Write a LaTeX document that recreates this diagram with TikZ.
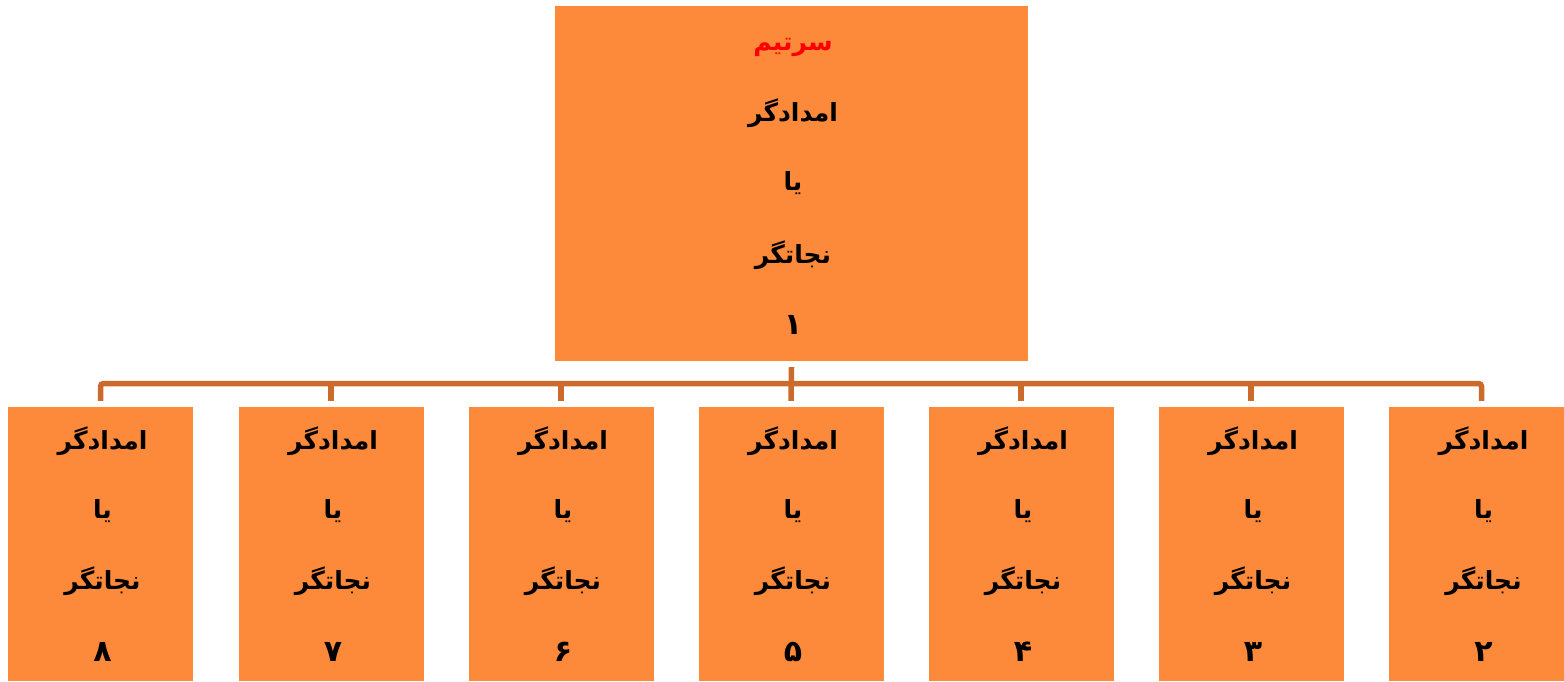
\documentclass[tikz,border=0pt]{standalone}
\usepackage{fontspec}
\TeXXeTstate=1
\newfontfamily\arabicfont[Script=Arabic]{DejaVu Sans}
\definecolor{boxorange}{RGB}{253,137,59}
\definecolor{connbrown}{RGB}{204,106,43}
\definecolor{titlered}{RGB}{255,0,0}
\begin{document}
\begin{tikzpicture}[x=1pt,y=-1pt,
  box/.style={fill=boxorange,draw=none,inner sep=0pt},
  lbl/.style={font=\arabicfont\bfseries\fontsize{25}{29}\selectfont,text=black,inner sep=0pt},
  num/.style={lbl,font=\arabicfont\bfseries\fontsize{30}{34}\selectfont},
  conn/.style={draw=connbrown,line width=5.5pt,rounded corners=3pt}]
\useasboundingbox (0,0) rectangle (1564,681);
% top box
\node[box,minimum width=473pt,minimum height=355pt] (top) at (791.5,183.5) {};
\node[lbl,text=titlered] (t0) at (793,47) {\beginR سرتیم\endR};
\node[lbl] (t1) at (793,113) {\beginR امدادگر\endR};
\node[lbl] (t2) at (793,183) {\beginR یا\endR};
\node[lbl] (t3) at (793,255) {\beginR نجاتگر\endR};
\node[num] (t4) at (793,325) {\beginR ۱\endR};
% bottom boxes
\foreach \i/\x/\n in {8/100.5/۸,7/331/۷,6/561/۶,5/791/۵,4/1021/۴,3/1251/۳,2/1481.5/۲}{
  \node[box,minimum width=185pt,minimum height=274pt] (b\i) at (\x,544) {};
  \node[lbl] (b\i a) at ([xshift=2pt]\x,441) {\beginR امدادگر\endR};
  \node[lbl] (b\i b) at ([xshift=2pt]\x,511) {\beginR یا\endR};
  \node[lbl] (b\i c) at ([xshift=2pt]\x,581) {\beginR نجاتگر\endR};
  \node[num] (b\i d) at ([xshift=2pt]\x,652) {\beginR \n\endR};
}
% connectors
\coordinate (hy) at (0,383.5);
\draw[conn] ([yshift=6pt]b8.north) -- (b8.north |- hy) -- (b2.north |- hy) -- ([yshift=6pt]b2.north);
\foreach \i in {7,6,4,3}{
  \draw[conn] (b\i.north |- hy) -- ([yshift=6pt]b\i.north);
}
\draw[conn] ([yshift=-6pt]top.south) -- ([yshift=6pt]b5.north);
\end{tikzpicture}
\end{document}
